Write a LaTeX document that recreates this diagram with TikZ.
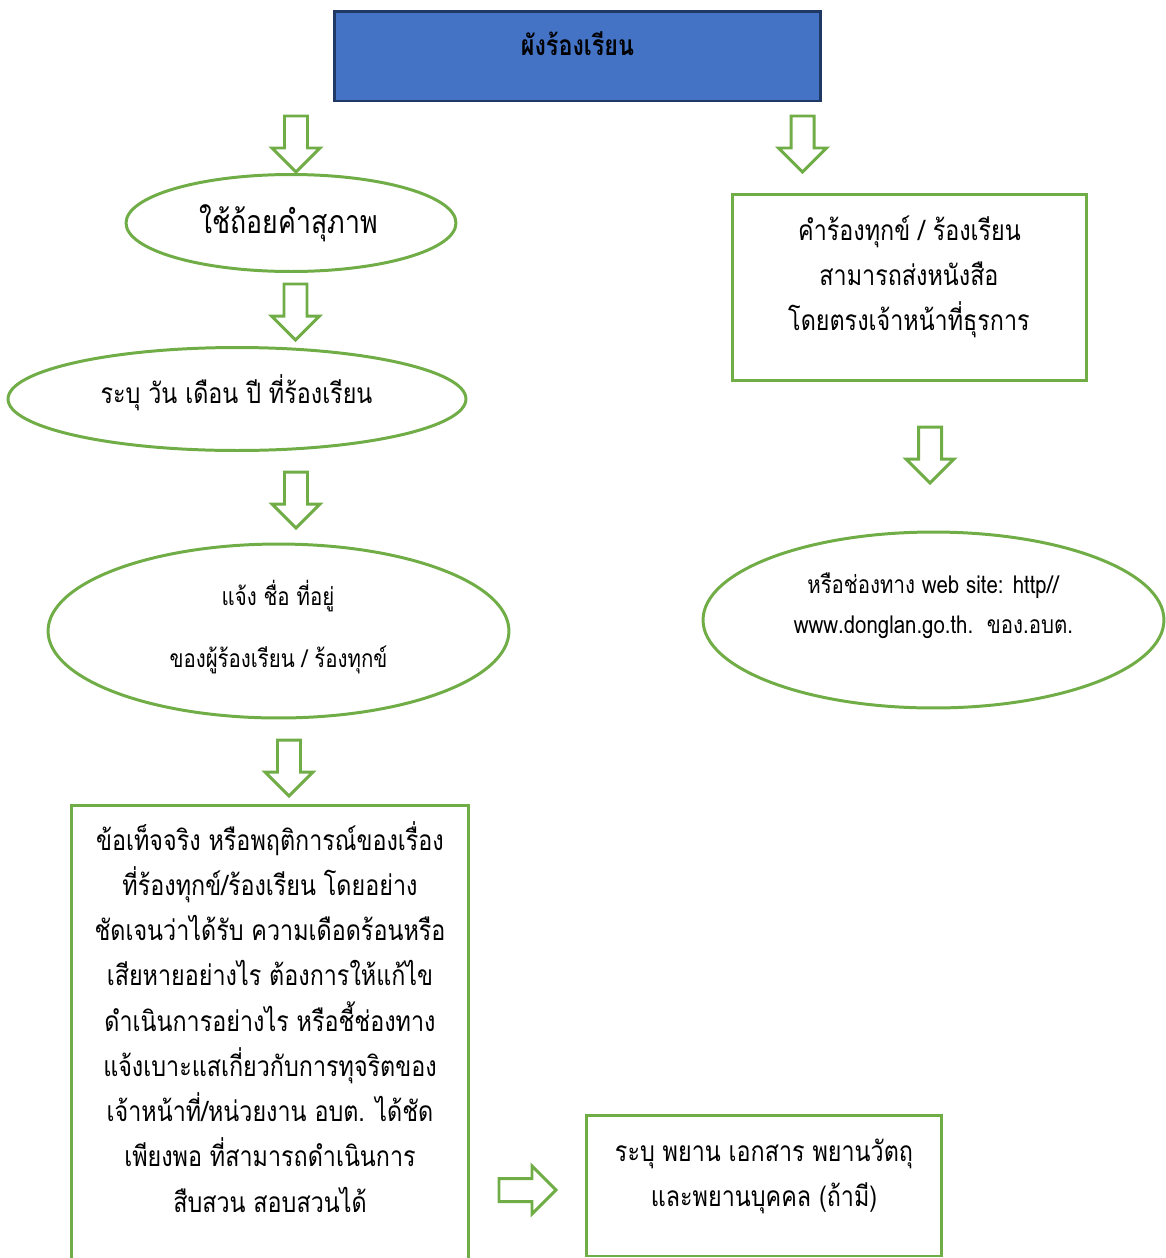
\documentclass[tikz,border=0pt]{standalone}
\usepackage{fontspec}
\setmainfont[Script=Thai,FakeStretch=0.83]{Loma}
\usetikzlibrary{shapes.geometric}
\definecolor{grn}{HTML}{70AD47}
\definecolor{blu}{HTML}{4472C4}
\definecolor{dblu}{HTML}{1F3864}
\begin{document}
\begin{tikzpicture}[x=0.02cm,y=-0.02cm,
  gline/.style={draw=grn,line width=1.7pt},
  ell/.style={gline,ellipse,inner sep=0pt},
  gbox/.style={gline,rectangle,inner sep=0pt},
  big/.style={anchor=base,inner sep=0pt,font=\fontsize{16}{18}\selectfont},
  small/.style={anchor=base,inner sep=0pt,font=\fontsize{14}{16}\selectfont},
  dnarr/.pic={\draw[gline,fill=white,line join=miter] (-11.5,0) -- (11.5,0) -- (11.5,32) -- (24,32) -- (0,56) -- (-24,32) -- (-11.5,32) -- cycle;},
  rtarr/.pic={\draw[gline,fill=white,line join=miter] (0,-11.5) -- (33,-11.5) -- (33,-24) -- (57,0) -- (33,24) -- (33,11.5) -- (0,11.5) -- cycle;}
]
\useasboundingbox (0,0) rectangle (1166,1258);
\clip (0,0) rectangle (1166,1258);
% title
\node[draw=dblu,fill=blu,line width=1.7pt,minimum width=9.74cm,minimum height=1.8cm,inner sep=0pt] (title) at (577.5,56) {};
\node[anchor=base,inner sep=0pt,font=\fontsize{16}{18}\selectfont\bfseries] (titlet) at (577.5,55) {ผังร้องเรียน};
% arrows
\pic at (296,116) {dnarr};
\pic at (295.5,284) {dnarr};
\pic at (296,472) {dnarr};
\pic at (289,740) {dnarr};
\pic at (802.5,116) {dnarr};
\pic at (930,427) {dnarr};
\pic at (499,1190) {rtarr};
% left column
\node[ell,minimum width=6.6cm,minimum height=1.94cm] (e1) at (291,223) {};
\node[anchor=base,inner sep=0pt,font=\fontsize{18.3}{20}\selectfont] (e1t) at (288.5,233) {ใช้ถ้อยคำสุภาพ};
\node[ell,minimum width=9.16cm,minimum height=2.06cm] (e2) at (237,399) {};
\node[big] (e2t) at (236.5,403) {ระบุ วัน เดือน ปี ที่ร้องเรียน};
\node[ell,minimum width=9.22cm,minimum height=3.48cm] (e3) at (278.5,631) {};
\node[small] (e3a) at (278,605) {แจ้ง ชื่อ ที่อยู่};
\node[small] (e3b) at (278.5,667) {ของผู้ร้องเรียน / ร้องทุกข์};
\node[gbox,minimum width=7.96cm,minimum height=9.7cm] (bb) at (270,1047.5) {};
\foreach \t [count=\i] in {ข้อเท็จจริง หรือพฤติการณ์ของเรื่อง,ที่ร้องทุกข์/ร้องเรียน โดยอย่าง,ชัดเจนว่าได้รับ ความเดือดร้อนหรือ,เสียหายอย่างไร ต้องการให้แก้ไข,ดำเนินการอย่างไร หรือชี้ช่องทาง,แจ้งเบาะแสเกี่ยวกับการทุจริตของ,เจ้าหน้าที่/หน่วยงาน อบต. ได้ชัด,เพียงพอ ที่สามารถดำเนินการ,สืบสวน สอบสวนได้}
  \node[big] (bbt\i) at (270,{850+(\i-1)*45.25}) {\t};
% right column
\node[gbox,minimum width=7.1cm,minimum height=3.74cm] (rb) at (909.5,287.5) {};
\node[big] (rb1) at (909.5,240) {คำร้องทุกข์ / ร้องเรียน};
\node[big] (rb2) at (909,285) {สามารถส่งหนังสือ};
\node[big] (rb3) at (909,330) {โดยตรงเจ้าหน้าที่ธุรการ};
\node[ell,minimum width=9.22cm,minimum height=3.52cm] (e4) at (933.5,620) {};
\node[small] (e4a) at (933,593) {หรือช่องทาง web site: http//};
\node[small] (e4b) at (933.5,633) {www.donglan.go.th.\ \ ของ.อบต.};
\node[gbox,minimum width=7.12cm,minimum height=2.82cm] (br) at (764,1185.5) {};
\node[big] (br1) at (764,1161) {ระบุ พยาน เอกสาร พยานวัตถุ};
\node[big] (br2) at (764,1206) {และพยานบุคคล (ถ้ามี)};
\end{tikzpicture}
\end{document}
